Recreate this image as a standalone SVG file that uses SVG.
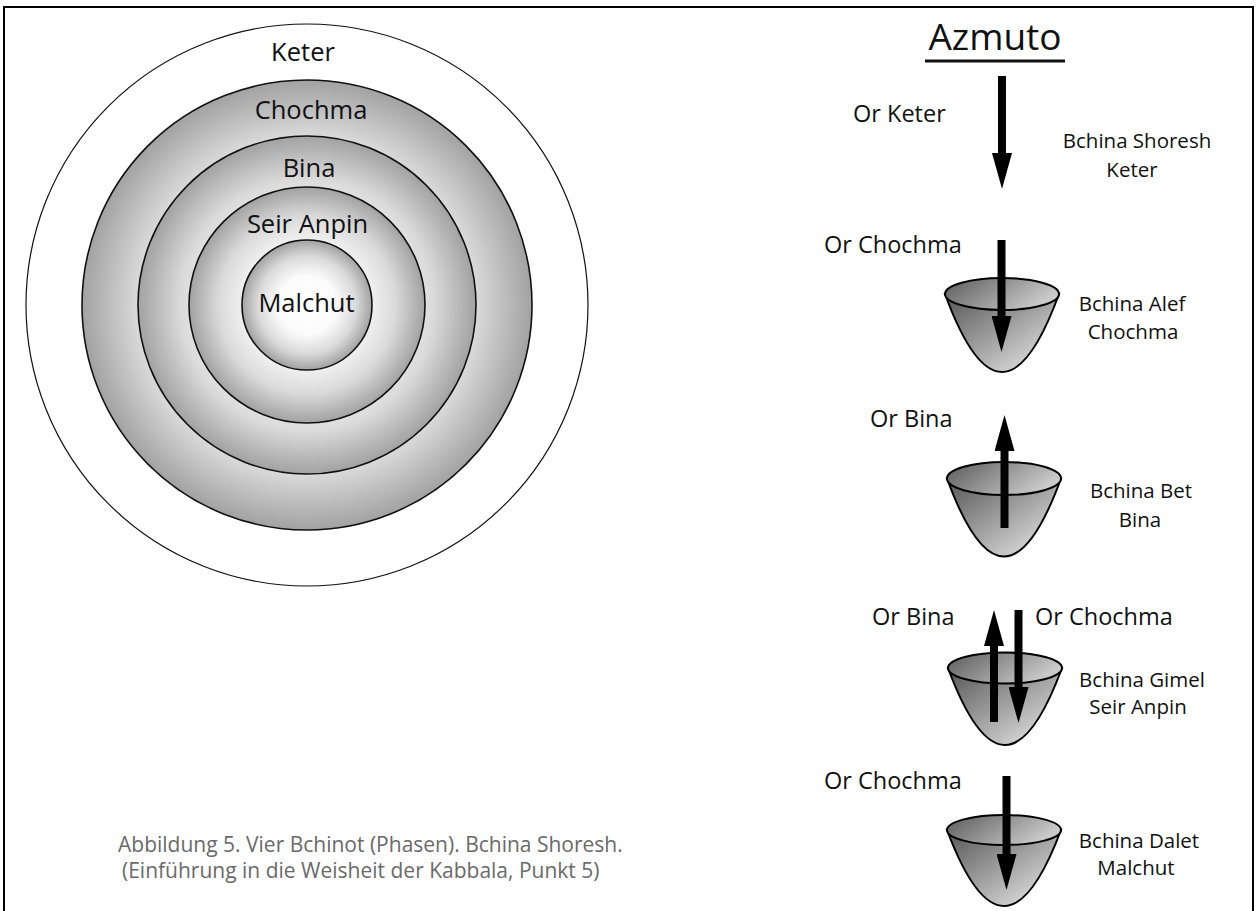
<svg xmlns="http://www.w3.org/2000/svg" width="1258" height="911" viewBox="0 0 1258 911">
<style>
text{font-family:"Open Sans","Liberation Sans",sans-serif;fill:#111}
.ring{font-size:25.5px;text-anchor:middle}
.or{font-size:23.5px}
.bch{font-size:20.5px;text-anchor:middle}
.cap{font-size:21px;fill:#6a6a6a}
.circ{stroke:#111;stroke-width:1.6;fill:url(#rg)}
.shaft{stroke:#000;stroke-width:8;fill:none}
.body{fill:url(#bodyg);stroke:#000;stroke-width:2}
.rim{fill:url(#rimg);stroke:#000;stroke-width:2}
</style>
<defs>
<radialGradient id="rg" cx="0.5" cy="0.5" r="0.5">
<stop offset="0" stop-color="#ffffff"/>
<stop offset="0.45" stop-color="#fbfbfb"/>
<stop offset="0.75" stop-color="#dadada"/>
<stop offset="1" stop-color="#a2a2a2"/>
</radialGradient>
<linearGradient id="bodyg" x1="0" y1="0" x2="1" y2="1">
<stop offset="0" stop-color="#555"/>
<stop offset="0.45" stop-color="#9a9a9a"/>
<stop offset="1" stop-color="#f2f2f2"/>
</linearGradient>
<linearGradient id="rimg" x1="0" y1="0" x2="1" y2="0.4">
<stop offset="0" stop-color="#5a5a5a"/>
<stop offset="1" stop-color="#cacaca"/>
</linearGradient>
<marker id="ah" markerUnits="userSpaceOnUse" markerWidth="36" markerHeight="20" viewBox="0 0 36 20" refX="1" refY="10" orient="auto">
<path d="M0,0 L36,10 L0,20 Z" fill="#000"/>
</marker>
</defs>
<rect x="4" y="7" width="1249" height="912" fill="#fff" stroke="#000" stroke-width="2"/>

<g id="circles">
<g id="c-keter"><circle cx="307" cy="305" r="281" fill="#fff" stroke="#111" stroke-width="1.2"/><text class="ring" x="303" y="61">Keter</text></g>
<g id="c-chochma"><circle class="circ" cx="307" cy="305" r="225"/><text class="ring" x="311" y="119">Chochma</text></g>
<g id="c-bina"><circle class="circ" cx="307" cy="305" r="169"/><text class="ring" x="309" y="177">Bina</text></g>
<g id="c-seir"><circle class="circ" cx="307" cy="305" r="118"/><text class="ring" x="307.5" y="233">Seir Anpin</text></g>
<g id="c-malchut"><circle class="circ" cx="307" cy="305" r="65"/><text class="ring" x="306.5" y="312">Malchut</text></g>
</g>

<g id="title"><text x="995" y="50" font-size="37" text-anchor="middle">Azmuto</text><rect x="925" y="59.5" width="140" height="3" fill="#111"/></g>

<g id="cup-alef"><path class="body" d="M945,294 Q1002,450 1059,294 Z"/><ellipse class="rim" cx="1002" cy="294" rx="57" ry="16"/></g>
<g id="cup-bet"><path class="body" d="M947,478.5 Q1004,634.5 1061,478.5 Z"/><ellipse class="rim" cx="1004" cy="478.5" rx="57" ry="16.5"/></g>
<g id="cup-gimel"><path class="body" d="M948,668 Q1005,822 1062,668 Z"/><ellipse class="rim" cx="1005" cy="668" rx="57" ry="15.5"/></g>
<g id="cup-dalet"><path class="body" d="M947,830 Q1004,982 1061,830 Z"/><ellipse class="rim" cx="1004" cy="830" rx="57" ry="15"/></g>

<g id="connectors">
<line class="shaft" x1="1002" y1="76" x2="1002" y2="154" marker-end="url(#ah)"/>
<line class="shaft" x1="1001.5" y1="240" x2="1001.5" y2="317" marker-end="url(#ah)"/>
<line class="shaft" x1="1004.5" y1="528" x2="1004.5" y2="450" marker-end="url(#ah)"/>
<line class="shaft" x1="994" y1="722" x2="994" y2="645" marker-end="url(#ah)"/>
<line class="shaft" x1="1018.5" y1="610" x2="1018.5" y2="688" marker-end="url(#ah)"/>
<line class="shaft" x1="1006.5" y1="776" x2="1006.5" y2="855" marker-end="url(#ah)"/>
</g>

<g id="labels">
<text class="or" x="853" y="122">Or Keter</text>
<text class="bch" x="1137" y="148">Bchina Shoresh</text>
<text class="bch" x="1132" y="177">Keter</text>
<text class="or" x="824" y="253">Or Chochma</text>
<text class="bch" x="1132" y="311">Bchina Alef</text>
<text class="bch" x="1133" y="339">Chochma</text>
<text class="or" x="870" y="427">Or Bina</text>
<text class="bch" x="1141" y="498">Bchina Bet</text>
<text class="bch" x="1140" y="527">Bina</text>
<text class="or" x="872" y="625">Or Bina</text>
<text class="or" x="1035" y="625">Or Chochma</text>
<text class="bch" x="1142" y="687">Bchina Gimel</text>
<text class="bch" x="1138" y="714">Seir Anpin</text>
<text class="or" x="824" y="789">Or Chochma</text>
<text class="bch" x="1139" y="848">Bchina Dalet</text>
<text class="bch" x="1136" y="875">Malchut</text>
</g>

<g id="caption">
<text class="cap" x="118" y="852">Abbildung 5. Vier Bchinot (Phasen). Bchina Shoresh.</text>
<text class="cap" x="122" y="878">(Einführung in die Weisheit der Kabbala, Punkt 5)</text>
</g>
</svg>
